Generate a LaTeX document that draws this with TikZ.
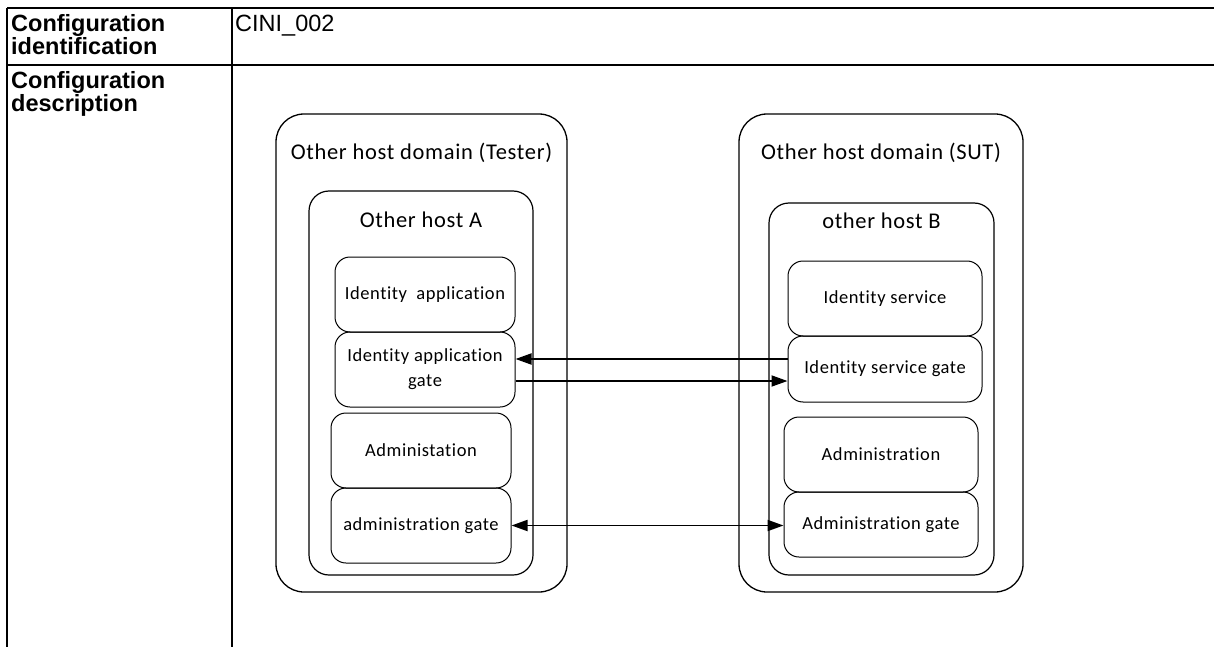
\documentclass[tikz,border=0pt]{standalone}
\usepackage{fontspec}
\setmainfont{Liberation Sans}
\newfontfamily\calib[Ligatures=NoCommon,LetterSpace=3]{Carlito}
\usetikzlibrary{arrows.meta,calc}
\begin{document}
\begin{tikzpicture}[x=1pt,y=-1pt,
  tline/.style={line width=2pt},
  domainbox/.style={draw,line width=1.3pt,rounded corners=28pt,rectangle,inner sep=0pt},
  hostbox/.style={draw,line width=1.2pt,rounded corners=20pt,rectangle,inner sep=0pt},
  itembox/.style={draw,line width=1pt,rounded corners=15pt,rectangle,inner sep=0pt,align=center,font=\calib\fontsize{18.5}{25}\selectfont},
  ttl/.style={font=\calib\fontsize{22.5}{26}\selectfont,inner sep=0pt},
  hdr/.style={font=\bfseries\fontsize{23.5}{23}\selectfont,align=left,anchor=north west,inner sep=0pt},
  arr/.style={line width=1.8pt,-{Triangle[length=16pt,width=11pt]}},
  darr/.style={line width=1.8pt,{Triangle[length=16pt,width=11pt]}-{Triangle[length=16pt,width=11pt]}}
]
\useasboundingbox (0,0) rectangle (1214,647);
% table
\coordinate (t1) at (7,8);
\coordinate (t2) at (1214,8);
\coordinate (t3) at (7,65);
\coordinate (t4) at (1214,65);
\coordinate (t5) at (7,647);
\coordinate (t6) at (232,8);
\coordinate (t7) at (232,647);
\draw[tline] (t1) -- (t2);
\draw[tline] (t3) -- (t4);
\draw[tline] (t1) -- (t5);
\draw[tline] (t6) -- (t7);
\node[hdr] (h1) at (11,14.5) {Configuration\\identification};
\node[hdr] (h2) at (11,71.5) {Configuration\\description};
\node[anchor=north west,inner sep=0pt,font=\fontsize{23.5}{23}\selectfont] (h3) at (235,14.5) {CINI\_002};
% left domain
\node[domainbox,minimum width=291pt,minimum height=478pt] (domA) at (421.5,353) {};
\node[ttl] (domAt) at (421.5,153) {Other host domain (Tester)};
\node[hostbox,minimum width=224pt,minimum height=384pt] (hostA) at (421,383) {};
\node[ttl] (hostAt) at (421,220) {Other host A};
\node[itembox,minimum width=180pt,minimum height=75pt] (idapp) at (425,294.5) {Identity\ \ application};
\node[itembox,minimum width=180pt,minimum height=75pt] (idappg) at (425,369.5) {Identity application\\gate};
\node[itembox,minimum width=180pt,minimum height=75pt] (admA) at (421,450.5) {Administation};
\node[itembox,minimum width=180pt,minimum height=75pt] (admAg) at (421,525.5) {administration gate};
% right domain
\node[domainbox,minimum width=284pt,minimum height=478pt] (domB) at (881,353) {};
\node[ttl] (domBt) at (881,153) {Other host domain (SUT)};
\node[hostbox,minimum width=225pt,minimum height=372pt] (hostB) at (881.5,389) {};
\node[ttl] (hostBt) at (881.5,221) {other host B};
\node[itembox,minimum width=194pt,minimum height=75pt] (idsrv) at (885,298.5) {Identity service};
\node[itembox,minimum width=194pt,minimum height=66pt] (idsrvg) at (885,369) {Identity service gate};
\node[itembox,minimum width=194pt,minimum height=75pt] (admB) at (881,454.5) {Administration};
\node[itembox,minimum width=194pt,minimum height=65pt] (admBg) at (881,524.5) {Administration gate};
% connectors
\coordinate (a1) at ([yshift=10pt]idsrvg.west);
\coordinate (a2) at ([yshift=-11.5pt]idappg.east);
\draw[arr] (a1) -- (idappg.east |- a1);
\draw[arr] (a2) -- (idsrvg.west |- a2);
\draw[darr] (admAg.east) -- (admBg.west |- admAg.east);
\end{tikzpicture}
\end{document}
